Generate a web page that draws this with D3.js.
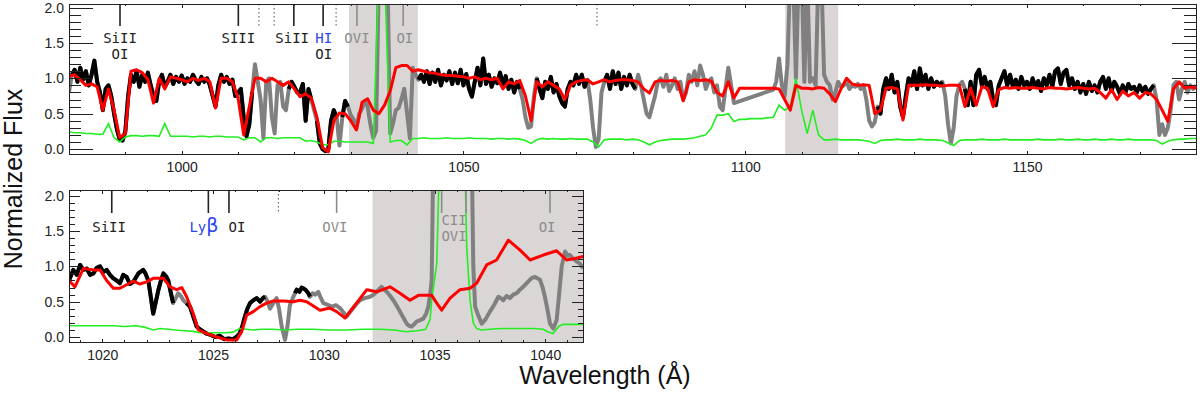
<!DOCTYPE html>
<html>
<meta charset="utf-8">
<style>
  body { margin: 0; background: #fff; }
  svg { width: 1200px; height: 395px; display: block; background: #fff; }
  .tick text { font-family: "Liberation Sans", Arial, sans-serif; font-size: 14px; fill: #222; }
  .tick line { stroke: #222; shape-rendering: crispEdges; }
  .frame { fill: none; stroke: #222; stroke-width: 1; shape-rendering: crispEdges; }
  .ion { font-family: "DejaVu Sans Mono", monospace; font-size: 14px; }
  .title { font-family: "Liberation Sans", Arial, sans-serif; font-size: 25px; fill: #111; }
</style>
<body>
  <svg></svg>
</body>
<script src="https://d3js.org/d3.v7.min.js"></script>
<script>

// TOP PANEL DATA (flux every 0.5 A, model and error every 1 A, from 980 A)
var topFlux = [
  0.80,1.05,1.12,0.95,1.15,0.98,1.10,0.90,1.05,1.25,0.95,0.80,0.55,0.85,0.90,0.75,0.50,0.28,0.13,0.12,
  0.25,0.75,1.05,0.95,1.10,0.88,1.05,0.95,1.08,0.90,0.75,0.68,0.95,1.05,0.88,0.95,1.05,0.92,1.02,0.95,
  1.04,0.92,1.00,0.95,1.05,0.97,0.92,1.02,0.95,1.00,0.90,0.75,0.60,0.90,1.05,0.95,1.02,0.92,0.98,0.75,
  0.80,0.85,0.45,0.18,0.35,0.80,1.20,0.95,0.70,0.15,0.95,1.00,0.45,0.22,0.90,0.95,0.60,0.55,0.85,0.95,
  0.88,0.80,0.80,0.92,0.40,0.85,0.70,0.55,0.40,0.08,0.00,-0.03,-0.02,0.40,0.55,0.45,0.05,0.45,0.68,0.60,
  0.48,0.42,0.29,0.50,0.57,0.68,0.60,0.34,0.16,0.26,2.50,2.50,2.50,2.50,0.22,0.36,0.55,0.58,0.71,0.85,
  0.50,0.15,1.15,1.05,0.98,1.05,0.95,1.10,0.92,1.08,0.95,1.12,0.90,1.05,0.97,1.10,0.92,1.08,0.93,1.12,
  0.90,1.06,0.85,0.74,0.95,1.15,0.90,1.28,0.92,1.05,0.88,1.00,0.93,1.08,0.90,1.03,0.85,0.98,0.80,0.95,
  0.85,0.70,0.45,0.30,0.32,0.75,1.00,0.85,0.72,0.95,0.85,1.02,0.80,0.92,0.75,0.65,0.60,0.85,0.95,0.90,
  1.05,0.92,1.05,0.88,0.98,0.70,0.30,0.03,0.15,0.80,0.95,1.05,0.85,1.10,0.92,1.08,0.85,1.02,0.90,1.05,
  0.92,0.85,1.05,0.90,0.70,0.50,0.45,0.60,0.75,0.95,1.00,0.88,1.05,0.82,0.90,1.00,0.85,0.95,0.70,0.80,
  1.05,0.95,1.10,0.90,1.18,1.05,0.85,0.95,1.00,0.80,0.90,0.60,0.55,0.85,1.15,0.90,0.65,null,null,null,
  null,null,null,null,null,null,null,null,null,null,0.84,0.95,1.28,0.90,0.75,1.20,2.50,2.50,1.00,2.50,
  2.50,0.95,2.50,0.95,1.00,0.90,2.50,2.50,1.05,0.95,0.90,0.70,0.80,0.95,0.88,0.90,0.95,0.85,0.90,0.88,
  0.92,0.85,0.90,0.70,0.40,0.32,0.38,0.60,0.50,0.85,1.00,0.85,1.05,0.80,0.95,0.60,0.45,0.75,1.00,0.90,
  1.10,0.85,1.14,0.90,1.05,0.85,1.00,0.88,0.95,0.90,0.95,0.75,0.35,0.08,0.30,0.75,0.90,0.95,0.85,0.62,
  0.95,0.62,1.05,1.12,0.90,1.02,0.85,0.95,0.70,0.62,0.90,1.00,1.10,0.90,1.05,0.88,0.98,0.85,1.02,0.90,
  0.95,0.85,1.00,0.88,0.96,0.82,1.00,0.90,1.05,0.88,1.10,1.14,0.92,1.08,1.12,0.90,1.00,0.85,0.95,0.80,
  0.92,0.78,0.95,0.82,0.90,0.80,0.95,1.02,0.85,1.00,0.82,0.95,0.88,0.78,0.90,0.80,0.92,0.85,0.88,0.80,
  0.90,0.82,0.88,0.78,0.85,0.90,0.70,0.20,0.35,0.20,0.30,0.55,0.90,0.95,0.70,0.85,0.95,0.80,0.90,0.85,
  0.90
];

var topModel = [
  1.03,1.05,0.98,0.90,0.92,0.88,0.55,0.85,0.55,0.16,
  0.22,1.10,1.12,1.08,0.98,0.65,1.00,0.85,1.02,1.00,
  0.98,0.95,1.00,0.97,1.00,0.95,0.58,1.00,1.00,0.95,
  0.72,0.20,0.60,1.00,1.00,0.95,1.00,0.95,0.90,0.95,
  0.85,0.74,0.78,0.72,0.45,0.02,-0.04,0.40,0.51,0.50,
  0.40,0.27,0.66,0.71,0.55,0.50,0.62,0.82,1.15,1.18,
  1.18,1.10,1.12,1.10,1.08,1.07,1.05,1.04,1.04,1.03,
  1.02,1.00,1.02,0.98,1.00,0.98,1.00,0.85,0.95,0.92,
  0.97,0.75,0.40,0.95,0.88,0.95,0.90,0.85,0.70,0.90,
  0.95,0.97,0.98,0.92,0.95,0.98,0.95,0.97,0.98,0.98,
  0.97,0.95,0.85,0.79,0.95,0.97,0.96,0.97,0.95,0.68,
  0.95,0.98,0.97,0.98,0.96,0.80,0.75,0.95,0.72,0.86,
  0.86,0.86,0.86,0.86,0.86,0.86,0.85,0.70,0.55,0.90,
  0.86,0.86,0.85,0.87,0.86,0.78,0.67,0.85,1.00,0.92,
  0.90,0.91,0.90,0.50,0.55,0.86,0.87,0.85,0.41,0.90,
  0.90,0.90,0.91,0.90,0.90,0.89,0.90,0.90,0.90,0.60,
  0.86,0.62,0.88,0.86,0.60,0.84,0.87,0.86,0.87,0.86,
  0.86,0.87,0.86,0.85,0.87,0.86,0.86,0.85,0.86,0.87,
  0.86,0.85,0.86,0.80,0.72,0.84,0.70,0.82,0.75,0.80,
  0.72,0.80,0.78,0.70,0.55,0.39,0.85,0.95,0.86,0.88,
  0.86
];

var topError = [
  0.24,0.23,0.23,0.22,0.22,0.21,0.21,0.36,0.16,0.10,
  0.17,0.19,0.19,0.18,0.19,0.19,0.18,0.36,0.18,0.18,
  0.18,0.18,0.17,0.18,0.18,0.17,0.18,0.18,0.17,0.17,
  0.17,0.13,0.16,0.16,0.10,0.16,0.16,0.15,0.16,0.16,
  0.16,0.16,0.11,0.12,0.10,0.06,0.06,0.11,0.11,0.10,
  0.10,0.10,0.10,0.10,0.08,2.50,2.50,0.10,0.12,0.12,
  0.06,0.15,0.15,0.16,0.15,0.15,0.15,0.16,0.15,0.15,
  0.15,0.16,0.15,0.15,0.15,0.14,0.15,0.15,0.14,0.15,
  0.14,0.12,0.08,0.13,0.15,0.14,0.15,0.14,0.14,0.15,
  0.14,0.14,0.14,0.10,0.03,0.13,0.14,0.14,0.14,0.13,
  0.14,0.13,0.10,0.06,0.10,0.12,0.13,0.14,0.14,0.14,
  0.15,0.16,0.18,0.20,0.30,0.48,0.48,0.50,0.39,0.42,
  0.42,0.43,0.43,0.43,0.44,0.45,0.62,0.55,0.60,1.00,
  0.55,0.22,0.55,0.20,0.13,0.13,0.14,0.13,0.13,0.13,
  0.13,0.12,0.11,0.08,0.12,0.13,0.13,0.14,0.13,0.13,
  0.13,0.14,0.13,0.13,0.13,0.12,0.09,0.05,0.12,0.13,
  0.13,0.13,0.14,0.13,0.13,0.13,0.14,0.13,0.13,0.13,
  0.13,0.13,0.14,0.13,0.13,0.13,0.14,0.13,0.13,0.14,
  0.13,0.13,0.14,0.13,0.13,0.14,0.13,0.13,0.14,0.13,
  0.13,0.13,0.13,0.12,0.07,0.11,0.13,0.14,0.14,0.15,
  0.15
];

// wavelength ranges where the spectrum is good (black), masked parts stay grey
var topGood = [[980.5,1012.5],[1019,1023.2],[1024,1027.5],[1028.5,1029.5],[1042,1060],
               [1063,1072],[1075,1080.5],[1123.5,1135],[1139,1172.5]];
var topShade = [[1029.7,1041.9],[1107.1,1116.5]];

// BOTTOM PANEL DATA (zoom around Ly-beta / OVI)
var botFluxWave = [
  1018.50,1018.69,1018.85,1019.00,1019.15,1019.30,1019.45,1019.60,1019.75,1019.90,
  1020.05,1020.20,1020.35,1020.50,1020.65,1020.80,1020.95,1021.10,1021.25,1021.40,
  1021.63,1021.85,1021.95,1022.08,1022.20,1022.30,1022.42,1022.53,1022.65,1022.76,
  1022.88,1022.98,1023.10,1023.20,1023.32,1023.43,1023.55,1023.66,1023.80,1023.96,
  1024.10,1024.26,1024.45,1024.70,1024.90,1025.10,1025.30,1025.50,1025.70,1025.90,
  1026.05,1026.20,1026.32,1026.44,1026.55,1026.67,1026.82,1026.97,1027.12,1027.25,
  1027.35,1027.47,1027.57,1027.72,1027.87,1027.98,1028.10,1028.25,1028.36,1028.47,
  1028.60,1028.70,1028.78,1028.90,1029.00,1029.08,1029.20,1029.30,1029.38,1029.50,
  1029.62,1029.75,1029.87,1029.98,1030.15,1030.36,1030.55,1030.73,1030.88,1031.03,
  1031.18,1031.33,1031.48,1031.63,1031.85,1032.09,1032.25,1032.39,1032.50,1032.61,
  1032.72,1032.84,1033.00,1033.14,1033.30,1033.44,1033.60,1033.74,1033.85,1033.97,
  1034.08,1034.19,1034.35,1034.49,1034.62,1034.72,1034.82,1034.87,1034.94,1036.68,
  1036.75,1036.83,1036.98,1037.13,1037.30,1037.50,1037.70,1037.88,1038.00,1038.10,
  1038.25,1038.40,1038.55,1038.71,1038.85,1039.00,1039.15,1039.30,1039.42,1039.53,
  1039.65,1039.76,1039.88,1039.98,1040.10,1040.21,1040.36,1040.51,1040.62,1040.74,
  1040.89,1041.00,1041.11,1041.22,1041.34,1041.45,1041.56,1041.71
];
var botFlux = [
  0.80,0.95,0.88,1.02,0.95,0.97,0.88,0.90,0.98,1.00,
  0.92,0.95,0.88,0.83,0.80,0.76,0.88,0.85,0.75,0.78,
  0.90,0.95,0.90,0.80,0.55,0.33,0.50,0.66,0.80,0.90,
  0.86,0.80,0.62,0.48,0.55,0.62,0.58,0.52,0.48,0.43,
  0.30,0.15,0.10,0.05,0.03,0.00,0.02,-0.03,-0.02,-0.03,
  0.00,0.05,0.15,0.29,0.40,0.48,0.52,0.55,0.50,0.55,
  0.57,0.50,0.40,0.48,0.55,0.40,0.15,-0.04,0.15,0.45,
  0.55,0.62,0.67,0.64,0.70,0.69,0.66,0.62,0.57,0.62,
  0.60,0.64,0.55,0.48,0.46,0.43,0.45,0.41,0.35,0.29,
  0.35,0.41,0.47,0.52,0.55,0.57,0.60,0.64,0.68,0.71,
  0.67,0.64,0.58,0.52,0.44,0.36,0.27,0.19,0.16,0.15,
  0.18,0.22,0.24,0.26,0.33,0.43,0.65,0.81,2.50,2.50,
  1.00,0.43,0.30,0.19,0.25,0.36,0.46,0.57,0.55,0.52,
  0.58,0.55,0.60,0.62,0.67,0.71,0.76,0.81,0.84,0.85,
  0.83,0.81,0.70,0.57,0.38,0.19,0.12,0.24,0.60,1.00,
  1.21,1.15,1.16,1.12,1.09,1.06,1.04,0.97
];

var botModelWave = [
  1018.50,1018.77,1019.15,1019.60,1019.90,1020.20,1020.50,1020.80,1021.10,1021.40,
  1021.70,1022.00,1022.30,1022.76,1023.06,1023.36,1023.59,1023.81,1024.11,1024.34,
  1024.72,1025.17,1025.62,1026.07,1026.30,1026.52,1026.82,1027.12,1027.42,1027.72,
  1028.17,1028.62,1028.93,1029.23,1029.83,1030.28,1030.58,1030.96,1031.41,1031.94,
  1032.39,1032.99,1033.44,1033.89,1034.27,1034.87,1035.10,1035.32,1035.70,1036.15,
  1036.60,1036.90,1037.35,1037.80,1038.33,1038.86,1039.31,1039.91,1040.51,1040.96,
  1041.34,1041.71
];
var botModel = [
  0.80,0.71,0.97,0.95,0.95,0.80,0.69,0.69,0.74,0.79,
  0.75,0.78,0.83,0.83,0.71,0.67,0.70,0.57,0.33,0.10,
  0.05,0.00,-0.04,-0.04,0.08,0.31,0.36,0.43,0.48,0.51,
  0.51,0.50,0.52,0.50,0.38,0.41,0.36,0.27,0.45,0.67,
  0.64,0.71,0.62,0.52,0.59,0.59,0.48,0.38,0.55,0.67,
  0.69,0.76,1.02,1.09,1.37,1.23,1.09,1.16,1.22,1.09,
  1.11,1.14
];

var botErrorWave = [
  1018.5,1019.0,1019.5,1020.0,1020.5,1021.0,1021.5,1021.9,1022.3,1022.6,
  1023.0,1023.3,1023.7,1024.1,1024.4,1025.0,1025.6,1025.9,1026.2,1026.5,
  1026.8,1027.2,1027.7,1028.2,1028.8,1029.5,1030.2,1031.0,1031.8,1032.5,
  1033.2,1033.7,1034.2,1034.6,1034.8,1034.87,1035.1,1035.22,1036.37,1036.45,
  1036.6,1036.75,1036.9,1037.1,1037.5,1038.0,1038.5,1039.0,1039.5,1039.9,
  1040.1,1040.35,1040.6,1040.8,1041.3,1041.71
];
var botError = [
  0.16,0.16,0.16,0.16,0.16,0.15,0.16,0.14,0.10,0.12,
  0.11,0.10,0.09,0.08,0.06,0.06,0.06,0.07,0.12,0.11,
  0.10,0.11,0.11,0.10,0.11,0.11,0.10,0.10,0.11,0.11,
  0.10,0.075,0.09,0.11,0.25,0.52,1.04,2.50,2.50,1.28,
  0.52,0.20,0.12,0.10,0.11,0.12,0.12,0.12,0.12,0.11,
  0.075,0.05,0.15,0.18,0.18,0.18
];

var botGood = [[1018.5,1023.2],[1023.8,1027.4],[1028.7,1029.45]];
var botShade = [[1032.2,1042.5]];

// LINE IDENTIFICATIONS: wavelength, kind ("ism" solid, "mask" grey, "dot" dotted)
var topIdWave = [989.05, 1010.05, 1019.9, 1025.1, 1031.1, 1039.3, 1013.7, 1016.4, 1027.4, 1073.7];
var topIdKind = ["ism","ism","ism","ism","mask","mask","dot","dot","dot","dot"];
var topLabelText = ["SiII","OI","SIII","SiII","HI","OI","OVI","OI"];
var topLabelWave = [989.05, 989.05, 1010.05, 1019.6, 1025.2, 1025.2, 1031.1, 1039.6];
var topLabelRow  = [0, 1, 0, 0, 0, 1, 0, 0];
var topLabelKind = ["ism","ism","ism","ism","hi","ism","mask","mask"];

var botIdWave = [1020.43, 1024.79, 1025.72, 1030.58, 1035.32, 1036.42, 1040.21, 1027.95];
var botIdKind = ["ism","ism","ism","mask","mask","mask","mask","dot"];
var botLabelText = ["SiII","Lyβ","OI","OVI","CII","OVI","OI"];
var botLabelWave = [1020.31, 1024.59, 1026.08, 1030.5, 1035.88, 1035.88, 1040.08];
var botLabelRow  = [0, 0, 0, 0, -0.42, 0.58, 0];
var botLabelKind = ["ism","hi","ism","mask","mask","mask","mask"];

var labelColor = {ism: "#222", hi: "#2c45f0", mask: "#8c8c8c"};

var svg = d3.select("svg");

// zip helper
function pairs(w, v){
  return w.map(function(d, i){ return [d, v[i]]; });
}
function inRanges(w, ranges){
  return ranges.some(function(r){ return w >= r[0] - 1e-6 && w <= r[1] + 1e-6; });
}

//CREATE PANEL
function makePanel(p){
  var g = svg.append("g").attr("transform", "translate(" + p.left + "," + p.top + ")");
  var x = d3.scaleLinear().domain(p.xDomain).range([0, p.width]);
  var y = d3.scaleLinear().domain(p.yDomain).range([p.height, 0]);

  g.append("clipPath").attr("id", p.id + "clip")
    .append("rect").attr("width", p.width).attr("height", p.height);

  var plot = g.append("g").attr("clip-path", "url(#" + p.id + "clip)");

  plot.selectAll("rect.shade").data(p.shade).enter()
    .append("rect").attr("class", "shade")
    .attr("x", function(d){ return x(d[0]); })
    .attr("width", function(d){ return x(d[1]) - x(d[0]); })
    .attr("y", 0).attr("height", p.height)
    .attr("fill", "#dbd6d6");

  var line = d3.line().x(function(d){ return x(d[0]); }).y(function(d){ return y(d[1]); });

  var flux = pairs(p.fluxWave, p.flux);

  // grey = full spectrum (gaps bridged)
  plot.append("path")
    .datum(flux.filter(function(d){ return d[1] != null; }))
    .attr("d", line).attr("fill", "none")
    .attr("stroke", "#808080").attr("stroke-width", 4).attr("stroke-linejoin", "round");

  // black = good pixels only
  plot.append("path")
    .datum(flux)
    .attr("d", line.defined(function(d){ return d[1] != null && inRanges(d[0], p.good); }))
    .attr("fill", "none")
    .attr("stroke", "#000").attr("stroke-width", 4).attr("stroke-linejoin", "round");
  line.defined(function(){ return true; });

  plot.append("path")
    .datum(pairs(p.errWave, p.err))
    .attr("d", line).attr("fill", "none")
    .attr("stroke", "#22ee22").attr("stroke-width", 1.6);

  plot.append("path")
    .datum(pairs(p.modelWave, p.model))
    .attr("d", line).attr("fill", "none")
    .attr("stroke", "#ff0000").attr("stroke-width", 3).attr("stroke-linejoin", "round");

  // line identification ticks
  var ids = pairs(p.idWave, p.idKind);
  g.selectAll("line.id").data(ids).enter()
    .append("line").attr("class", "id")
    .attr("x1", function(d){ return x(d[0]); })
    .attr("x2", function(d){ return x(d[0]); })
    .attr("y1", 0).attr("y2", p.idLen)
    .attr("stroke", function(d){ return d[1] == "mask" ? "#8c8c8c" : (d[1] == "dot" ? "#555" : "#222"); })
    .attr("stroke-width", function(d){ return d[1] == "dot" ? 1 : 1.6; })
    .attr("stroke-dasharray", function(d){ return d[1] == "dot" ? "1.5,2.5" : null; });

  var labels = p.labelText.map(function(t, i){
    return {t: t, w: p.labelWave[i], r: p.labelRow[i], k: p.labelKind[i]};
  });
  var txt = g.selectAll("text.ion").data(labels).enter()
    .append("text").attr("class", "ion")
    .attr("x", function(d){ return x(d.w); })
    .attr("y", function(d){ return p.labelY + d.r * 16.5; })
    .attr("dy", "0.35em")
    .attr("text-anchor", "middle")
    .attr("fill", function(d){ return labelColor[d.k]; });
  txt.each(function(d){
    var el = d3.select(this);
    var parts = d.t.split(/(β)/);
    parts.forEach(function(s){
      if (!s) return;
      var ts = el.append("tspan").text(s);
      if (s == "β") ts.attr("font-family", "DejaVu Sans").attr("font-size", "19px");
    });
  });

  drawAxes(g, x, y, p);

  g.append("rect").attr("class", "frame").attr("width", p.width).attr("height", p.height);
}

//CREATE AXES
function drawAxes(g, x, y, p){
  var yMaj = [0, 0.5, 1, 1.5, 2];
  var yMin = d3.range(1, 20).filter(function(i){ return i % 5; }).map(function(i){ return i / 10; });
  var xMaj = d3.range(p.xMajorStart, p.xDomain[1] + 0.001, p.xMajor);
  var xMin = d3.range(Math.ceil(p.xDomain[0]), p.xDomain[1] + 0.001, p.xMinor)
    .filter(function(v){ return Math.abs(v / p.xMajor - Math.round(v / p.xMajor)) > 1e-6; });

  var axes = [
    g.append("g").call(d3.axisLeft(y).tickValues(yMaj).tickSizeInner(-p.yTick).tickSizeOuter(0)
      .tickPadding(5).tickFormat(d3.format(".1f"))),
    g.append("g").call(d3.axisLeft(y).tickValues(yMin).tickSizeInner(-p.yTick / 2).tickSizeOuter(0).tickFormat("")),
    g.append("g").attr("transform", "translate(" + p.width + ",0)")
      .call(d3.axisRight(y).tickValues(yMaj).tickSizeInner(-p.yTick).tickSizeOuter(0).tickFormat("")),
    g.append("g").attr("transform", "translate(" + p.width + ",0)")
      .call(d3.axisRight(y).tickValues(yMin).tickSizeInner(-p.yTick / 2).tickSizeOuter(0).tickFormat("")),
    g.append("g").attr("transform", "translate(0," + p.height + ")")
      .call(d3.axisBottom(x).tickValues(xMaj).tickSizeInner(-3.5).tickSizeOuter(0)
        .tickPadding(8).tickFormat(d3.format("d"))),
    g.append("g").attr("transform", "translate(0," + p.height + ")")
      .call(d3.axisBottom(x).tickValues(xMin).tickSizeInner(-2).tickSizeOuter(0).tickFormat("")),
    g.append("g").call(d3.axisTop(x).tickValues(xMaj).tickSizeInner(-3.5).tickSizeOuter(0).tickFormat("")),
    g.append("g").call(d3.axisTop(x).tickValues(xMin).tickSizeInner(-2).tickSizeOuter(0).tickFormat(""))
  ];
  axes.forEach(function(a){ a.select(".domain").remove(); });
}

makePanel({
  id: "top", left: 69, top: 4, width: 1127, height: 150,
  xDomain: [980, 1180], yDomain: [-0.07, 2.05],
  xMajor: 50, xMajorStart: 1000, xMinor: 10, yTick: 24,
  fluxWave: d3.range(topFlux.length).map(function(i){ return 980 + i * 0.5; }),
  flux: topFlux,
  modelWave: d3.range(topModel.length).map(function(i){ return 980 + i; }),
  model: topModel,
  errWave: d3.range(topError.length).map(function(i){ return 980 + i; }),
  err: topError,
  good: topGood, shade: topShade,
  idWave: topIdWave, idKind: topIdKind, idLen: 22,
  labelText: topLabelText, labelWave: topLabelWave, labelRow: topLabelRow, labelKind: topLabelKind,
  labelY: 34
});

makePanel({
  id: "bot", left: 69, top: 190, width: 514, height: 152,
  xDomain: [1018.5, 1041.7], yDomain: [-0.07, 2.08],
  xMajor: 5, xMajorStart: 1020, xMinor: 1, yTick: 11,
  fluxWave: botFluxWave, flux: botFlux,
  modelWave: botModelWave, model: botModel,
  errWave: botErrorWave, err: botError,
  good: botGood, shade: botShade,
  idWave: botIdWave, idKind: botIdKind, idLen: 23,
  labelText: botLabelText, labelWave: botLabelWave, labelRow: botLabelRow, labelKind: botLabelKind,
  labelY: 37
});

// AXIS TITLES
svg.append("text").attr("class", "title")
  .attr("transform", "translate(22,179) rotate(-90)")
  .attr("text-anchor", "middle")
  .text("Normalized Flux");

svg.append("text").attr("class", "title")
  .attr("x", 605).attr("y", 384)
  .attr("text-anchor", "middle")
  .text("Wavelength (Å)");

</script>
</html>
